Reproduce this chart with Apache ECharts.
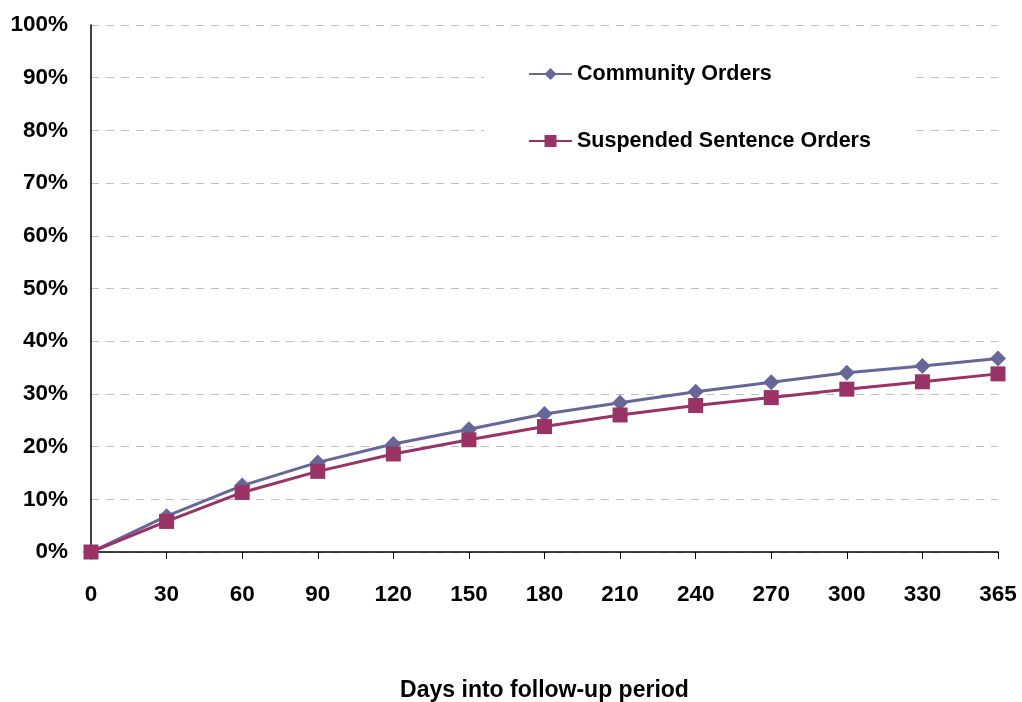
<!DOCTYPE html>
<html>
<head>
<meta charset="utf-8">
<script src="https://cdn.jsdelivr.net/npm/echarts@6/dist/echarts.min.js"></script>
<style>
  html, body { margin: 0; padding: 0; background: #fff; }
  #chart { width: 1022px; height: 702px; }
</style>
</head>
<body>
<div id="chart"></div>
<script>
const days = ['0', '30', '60', '90', '120', '150', '180', '210', '240', '270', '300', '330', '365']
const communityOrders = [0, 6.8, 12.6, 17.0, 20.5, 23.3, 26.2, 28.3, 30.4, 32.2, 34.0, 35.3, 36.7]
const suspendedOrders = [0, 5.8, 11.3, 15.3, 18.6, 21.3, 23.8, 26.0, 27.8, 29.3, 30.9, 32.3, 33.8]

const font = '"Liberation Sans", Arial, sans-serif'

const option = {
  backgroundColor: '#fff',
  animation: false,
  grid: {
    left: 91,
    right: 24,
    top: 25,
    bottom: 150,
    containLabel: false,
    outerBoundsMode: 'none'
  },
  legend: {
    orient: 'vertical',
    left: 484,
    top: 53,
    itemGap: 45,
    itemWidth: 43,
    itemHeight: 15,
    padding: [10, 45, 10, 44],
    backgroundColor: '#fff',
    textStyle: {
      fontFamily: font,
      fontWeight: 'bold',
      fontSize: 21.5,
      color: '#000'
    },
    data: ['Community Orders', 'Suspended Sentence Orders']
  },
  xAxis: {
    type: 'category',
    data: days,
    boundaryGap: false,
    name: 'Days into follow-up period',
    nameLocation: 'middle',
    nameGap: 127,
    nameTextStyle: {
      fontFamily: font,
      fontWeight: 'bold',
      fontSize: 23,
      color: '#000'
    },
    axisLine: { lineStyle: { color: '#000', width: 1.5 } },
    axisTick: { show: true, alignWithLabel: true, length: 7, lineStyle: { color: '#000' } },
    axisLabel: {
      margin: 31,
      fontFamily: font,
      fontWeight: 'bold',
      fontSize: 22.5,
      color: '#000'
    },
    splitLine: { show: false }
  },
  yAxis: {
    type: 'value',
    min: 0,
    max: 100,
    interval: 10,
    axisLine: { show: true, lineStyle: { color: '#000', width: 1.5 } },
    axisTick: { show: false },
    axisLabel: {
      formatter: '{value}%',
      margin: 23,
      fontFamily: font,
      fontWeight: 'bold',
      fontSize: 22.5,
      color: '#000'
    },
    splitLine: {
      show: true,
      lineStyle: { color: '#c0c0c0', type: [8, 7], width: 1 }
    }
  },
  series: [
    {
      name: 'Community Orders',
      type: 'line',
      data: communityOrders,
      symbol: 'diamond',
      symbolSize: 16,
      color: '#666699',
      lineStyle: { width: 3, color: '#666699' },
      itemStyle: { color: '#666699' },
      z: 2
    },
    {
      name: 'Suspended Sentence Orders',
      type: 'line',
      data: suspendedOrders,
      symbol: 'rect',
      symbolSize: 15,
      color: '#993366',
      lineStyle: { width: 3, color: '#993366' },
      itemStyle: { color: '#993366' },
      z: 3
    }
  ]
}

const myChart = echarts.init(document.getElementById('chart'))
myChart.setOption(option, true)
</script>
</body>
</html>
